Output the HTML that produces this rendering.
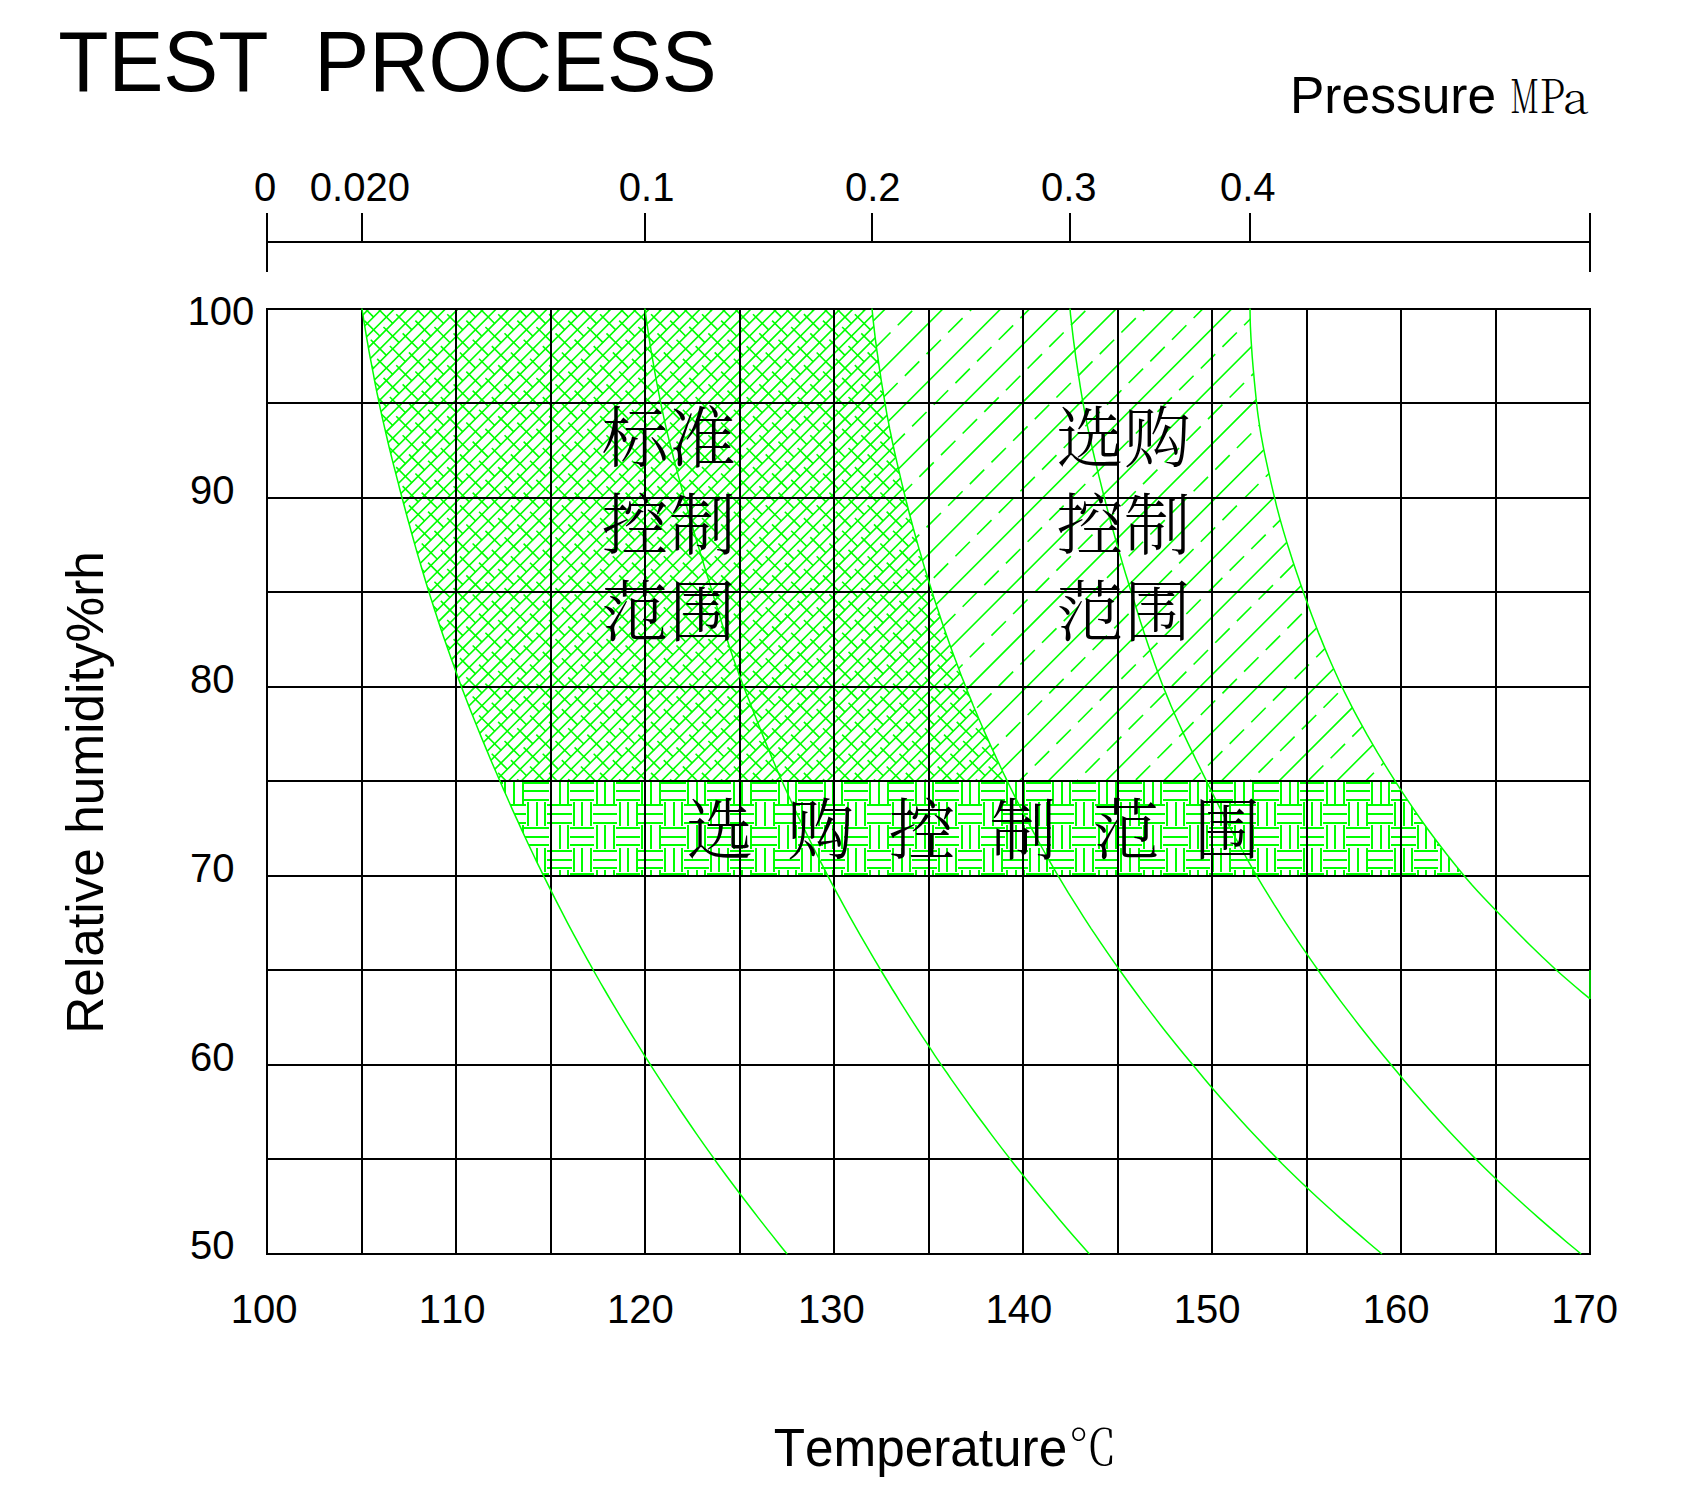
<!DOCTYPE html><html><head><meta charset="utf-8"><title>TEST PROCESS</title>
<style>html,body{margin:0;padding:0;background:#fff}svg{display:block}text{font-family:"Liberation Sans",sans-serif;fill:#000;font-kerning:none}.cj{font-family:"Liberation Serif","Noto Serif CJK SC",serif;font-weight:300}.cn{font-family:"Noto Serif CJK SC","Liberation Serif",serif;font-weight:300}</style></head><body>
<svg width="1687" height="1488" viewBox="0 0 1687 1488">
<rect width="1687" height="1488" fill="#fff"/>
<defs><clipPath id="cA"><path d="M362.0 309.0L362.9 315.1L363.9 321.1L364.9 327.2L365.9 333.2L366.9 339.3L368.0 345.3L369.1 351.4L370.2 357.4L371.3 363.5L372.4 369.5L373.6 375.6L374.8 381.6L376.0 387.7L377.2 393.7L378.5 399.8L379.7 405.8L381.0 411.9L382.3 417.9L383.7 424.0L385.1 430.0L386.5 436.1L388.0 442.1L389.4 448.2L390.9 454.2L392.4 460.3L394.0 466.3L395.5 472.4L397.1 478.4L398.6 484.5L400.2 490.5L401.8 496.6L403.4 502.6L405.0 508.7L406.6 514.7L408.2 520.8L409.9 526.8L411.6 532.9L413.2 538.9L414.9 545.0L416.7 551.1L418.4 557.1L420.2 563.2L422.0 569.2L423.8 575.3L425.6 581.3L427.5 587.4L429.3 593.4L431.3 599.5L433.2 605.5L435.1 611.6L437.1 617.6L439.1 623.7L441.2 629.7L443.2 635.8L445.3 641.8L447.4 647.9L449.5 653.9L451.7 660.0L453.9 666.0L456.1 672.1L458.3 678.1L460.5 684.2L462.8 690.2L465.1 696.3L467.4 702.3L469.8 708.4L472.1 714.4L474.5 720.5L477.0 726.5L479.4 732.6L481.9 738.6L484.4 744.7L487.0 750.7L489.5 756.8L492.1 762.8L494.7 768.9L497.3 774.9L499.9 781.0L1007.3 781.0L1004.3 774.9L1001.5 768.9L998.6 762.8L995.8 756.8L993.0 750.7L990.2 744.7L987.5 738.6L984.8 732.6L982.2 726.5L979.6 720.5L977.0 714.4L974.4 708.4L971.9 702.3L969.5 696.3L967.1 690.2L964.7 684.2L962.3 678.1L960.0 672.1L957.7 666.0L955.4 660.0L953.2 653.9L951.0 647.9L948.8 641.8L946.7 635.8L944.6 629.7L942.5 623.7L940.4 617.6L938.4 611.6L936.4 605.5L934.5 599.5L932.6 593.4L930.6 587.4L928.8 581.3L926.9 575.3L925.1 569.2L923.3 563.2L921.5 557.1L919.7 551.1L918.0 545.0L916.2 538.9L914.6 532.9L912.9 526.8L911.3 520.8L909.7 514.7L908.1 508.7L906.6 502.6L905.1 496.6L903.6 490.5L902.2 484.5L900.7 478.4L899.3 472.4L897.9 466.3L896.5 460.3L895.1 454.2L893.8 448.2L892.5 442.1L891.2 436.1L890.0 430.0L888.8 424.0L887.6 417.9L886.5 411.9L885.4 405.8L884.4 399.8L883.4 393.7L882.4 387.7L881.5 381.6L880.5 375.6L879.6 369.5L878.7 363.5L877.9 357.4L877.0 351.4L876.2 345.3L875.4 339.3L874.7 333.2L874.0 327.2L873.3 321.1L872.6 315.1L872.0 309.0Z"/></clipPath><clipPath id="cB"><path d="M872.0 309.0L872.6 315.1L873.3 321.1L874.0 327.2L874.7 333.2L875.4 339.3L876.2 345.3L877.0 351.4L877.9 357.4L878.7 363.5L879.6 369.5L880.5 375.6L881.5 381.6L882.4 387.7L883.4 393.7L884.4 399.8L885.4 405.8L886.5 411.9L887.6 417.9L888.8 424.0L890.0 430.0L891.2 436.1L892.5 442.1L893.8 448.2L895.1 454.2L896.5 460.3L897.9 466.3L899.3 472.4L900.7 478.4L902.2 484.5L903.6 490.5L905.1 496.6L906.6 502.6L908.1 508.7L909.7 514.7L911.3 520.8L912.9 526.8L914.6 532.9L916.2 538.9L918.0 545.0L919.7 551.1L921.5 557.1L923.3 563.2L925.1 569.2L926.9 575.3L928.8 581.3L930.6 587.4L932.6 593.4L934.5 599.5L936.4 605.5L938.4 611.6L940.4 617.6L942.5 623.7L944.6 629.7L946.7 635.8L948.8 641.8L951.0 647.9L953.2 653.9L955.4 660.0L957.7 666.0L960.0 672.1L962.3 678.1L964.7 684.2L967.1 690.2L969.5 696.3L971.9 702.3L974.4 708.4L977.0 714.4L979.6 720.5L982.2 726.5L984.8 732.6L987.5 738.6L990.2 744.7L993.0 750.7L995.8 756.8L998.6 762.8L1001.5 768.9L1004.3 774.9L1007.3 781.0L1395.0 781.0L1391.2 774.9L1387.4 768.9L1383.7 762.8L1380.0 756.8L1376.4 750.7L1372.8 744.7L1369.3 738.6L1365.9 732.6L1362.5 726.5L1359.2 720.5L1355.9 714.4L1352.7 708.4L1349.6 702.3L1346.6 696.3L1343.6 690.2L1340.8 684.2L1338.0 678.1L1335.2 672.1L1332.5 666.0L1329.8 660.0L1327.2 653.9L1324.7 647.9L1322.2 641.8L1319.7 635.8L1317.3 629.7L1314.9 623.7L1312.6 617.6L1310.3 611.6L1308.1 605.5L1305.9 599.5L1303.8 593.4L1301.7 587.4L1299.6 581.3L1297.5 575.3L1295.5 569.2L1293.5 563.2L1291.5 557.1L1289.5 551.1L1287.6 545.0L1285.8 538.9L1284.0 532.9L1282.2 526.8L1280.5 520.8L1278.9 514.7L1277.3 508.7L1275.8 502.6L1274.3 496.6L1272.9 490.5L1271.5 484.5L1270.1 478.4L1268.7 472.4L1267.4 466.3L1266.1 460.3L1264.8 454.2L1263.6 448.2L1262.4 442.1L1261.3 436.1L1260.2 430.0L1259.3 424.0L1258.4 417.9L1257.6 411.9L1256.9 405.8L1256.2 399.8L1255.6 393.7L1255.0 387.7L1254.4 381.6L1253.9 375.6L1253.3 369.5L1252.8 363.5L1252.3 357.4L1251.9 351.4L1251.4 345.3L1251.1 339.3L1250.7 333.2L1250.5 327.2L1250.2 321.1L1250.1 315.1L1250.0 309.0Z"/></clipPath><clipPath id="cC"><path d="M499.9 781.0L502.6 787.3L505.4 793.7L508.2 800.0L511.0 806.3L513.9 812.7L516.7 819.0L519.6 825.3L522.5 831.7L525.5 838.0L528.5 844.3L531.4 850.7L534.5 857.0L537.5 863.3L540.6 869.7L543.7 876.0L1464.3 876.0L1459.1 869.7L1453.9 863.3L1448.9 857.0L1444.0 850.7L1439.1 844.3L1434.3 838.0L1429.6 831.7L1425.0 825.3L1420.5 819.0L1416.1 812.7L1411.7 806.3L1407.4 800.0L1403.2 793.7L1399.1 787.3L1395.0 781.0Z"/></clipPath></defs>
<g clip-path="url(#cA)" stroke="#00ff00" stroke-width="1.60" fill="none">
<path d="M108.7 543.7L683.7 -31.3M115.1 550.1L690.1 -24.9M121.4 556.4L696.4 -18.6M127.8 562.8L702.8 -12.2M134.2 569.2L709.2 -5.8M140.5 575.5L715.5 0.5M146.9 581.9L721.9 6.9M153.3 588.3L728.3 13.3M159.7 594.7L734.7 19.7M166.0 601.0L741.0 26.0M172.4 607.4L747.4 32.4M178.8 613.8L753.8 38.8M185.1 620.1L760.1 45.1M191.5 626.5L766.5 51.5M197.9 632.9L772.9 57.9M204.3 639.3L779.3 64.3M210.6 645.6L785.6 70.6M217.0 652.0L792.0 77.0M223.4 658.4L798.4 83.4M229.7 664.7L804.7 89.7M236.1 671.1L811.1 96.1M242.5 677.5L817.5 102.5M248.8 683.8L823.8 108.8M255.2 690.2L830.2 115.2M261.6 696.6L836.6 121.6M268.0 703.0L843.0 128.0M274.3 709.3L849.3 134.3M280.7 715.7L855.7 140.7M287.1 722.1L862.1 147.1M293.4 728.4L868.4 153.4M299.8 734.8L874.8 159.8M306.2 741.2L881.2 166.2M312.5 747.5L887.5 172.5M318.9 753.9L893.9 178.9M325.3 760.3L900.3 185.3M331.7 766.7L906.7 191.7M338.0 773.0L913.0 198.0M344.4 779.4L919.4 204.4M350.8 785.8L925.8 210.8M357.1 792.1L932.1 217.1M363.5 798.5L938.5 223.5M369.9 804.9L944.9 229.9M376.3 811.3L951.3 236.3M382.6 817.6L957.6 242.6M389.0 824.0L964.0 249.0M395.4 830.4L970.4 255.4M401.7 836.7L976.7 261.7M408.1 843.1L983.1 268.1M414.5 849.5L989.5 274.5M420.8 855.8L995.8 280.8M427.2 862.2L1002.2 287.2M433.6 868.6L1008.6 293.6M440.0 875.0L1015.0 300.0M446.3 881.3L1021.3 306.3M452.7 887.7L1027.7 312.7M459.1 894.1L1034.1 319.1M465.4 900.4L1040.4 325.4M471.8 906.8L1046.8 331.8M478.2 913.2L1053.2 338.2M484.5 919.5L1059.5 344.5M490.9 925.9L1065.9 350.9M497.3 932.3L1072.3 357.3M503.7 938.7L1078.7 363.7M510.0 945.0L1085.0 370.0M516.4 951.4L1091.4 376.4M522.8 957.8L1097.8 382.8M529.1 964.1L1104.1 389.1M535.5 970.5L1110.5 395.5M541.9 976.9L1116.9 401.9M548.2 983.2L1123.2 408.2M554.6 989.6L1129.6 414.6M561.0 996.0L1136.0 421.0M567.4 1002.4L1142.4 427.4M573.7 1008.7L1148.7 433.7M580.1 1015.1L1155.1 440.1M586.5 1021.5L1161.5 446.5M592.8 1027.8L1167.8 452.8M599.2 1034.2L1174.2 459.2M605.6 1040.6L1180.6 465.6M612.0 1047.0L1187.0 472.0M618.3 1053.3L1193.3 478.3M624.7 1059.7L1199.7 484.7M631.1 1066.1L1206.1 491.1M637.4 1072.4L1212.4 497.4M643.8 1078.8L1218.8 503.8M650.2 1085.2L1225.2 510.2M656.5 1091.5L1231.5 516.5M662.9 1097.9L1237.9 522.9M669.3 1104.3L1244.3 529.3M675.7 1110.7L1250.7 535.7M682.0 1117.0L1257.0 542.0M688.4 1123.4L1263.4 548.4"/>
<path d="M96.8 537.2L707.8 1148.2M90.5 518.1L714.2 1141.8M109.6 524.5L720.5 1135.4M103.2 505.4L726.9 1129.1M122.3 511.7L733.3 1122.7M116.0 492.6L739.6 1116.3M135.1 499.0L746.0 1109.9M128.7 479.9L752.4 1103.6M147.8 486.3L758.8 1097.2M141.4 467.1L765.1 1090.8M160.5 473.5L771.5 1084.5M154.2 454.4L777.9 1078.1M173.3 460.8L784.2 1071.7M166.9 441.7L790.6 1065.4M186.0 448.0L797.0 1059.0M179.7 428.9L803.4 1052.6M198.8 435.3L809.7 1046.2M192.4 416.2L816.1 1039.9M211.5 422.5L822.5 1033.5M205.1 403.4L828.8 1027.1M224.3 409.8L835.2 1020.8M217.9 390.7L841.6 1014.4M237.0 397.1L847.9 1008.0M230.6 378.0L854.3 1001.6M249.7 384.3L860.7 995.3M243.4 365.2L867.1 988.9M262.5 371.6L873.4 982.5M256.1 352.5L879.8 976.2M275.2 358.8L886.2 969.8M268.8 339.7L892.5 963.4M288.0 346.1L898.9 957.1M281.6 327.0L905.3 950.7M300.7 333.4L911.6 944.3M294.3 314.3L918.0 937.9M313.4 320.6L924.4 931.6M307.1 301.5L930.8 925.2M326.2 307.9L937.1 918.8M319.8 288.8L943.5 912.5M338.9 295.1L949.9 906.1M332.5 276.0L956.2 899.7M351.7 282.4L962.6 893.4M345.3 263.3L969.0 887.0M364.4 269.7L975.3 880.6M358.0 250.6L981.7 874.2M377.1 256.9L988.1 867.9M370.8 237.8L994.5 861.5M389.9 244.2L1000.8 855.1M383.5 225.1L1007.2 848.8M402.6 231.4L1013.6 842.4M396.3 212.3L1019.9 836.0M415.4 218.7L1026.3 829.6M409.0 199.6L1032.7 823.3M428.1 206.0L1039.1 816.9M421.7 186.8L1045.4 810.5M440.8 193.2L1051.8 804.2M434.5 174.1L1058.2 797.8M453.6 180.5L1064.5 791.4M447.2 161.4L1070.9 785.1M466.3 167.7L1077.3 778.7M460.0 148.6L1083.6 772.3M479.1 155.0L1090.0 765.9M472.7 135.9L1096.4 759.6M491.8 142.3L1102.8 753.2M485.4 123.1L1109.1 746.8M504.5 129.5L1115.5 740.5M498.2 110.4L1121.9 734.1M517.3 116.8L1128.2 727.7M510.9 97.7L1134.6 721.4M530.0 104.0L1141.0 715.0M523.7 84.9L1147.3 708.6M542.8 91.3L1153.7 702.2M536.4 72.2L1160.1 695.9M555.5 78.6L1166.5 689.5M549.1 59.4L1172.8 683.1M568.2 65.8L1179.2 676.8M561.9 46.7L1185.6 670.4M581.0 53.1L1191.9 664.0M574.6 34.0L1198.3 657.7M593.7 40.3L1204.7 651.3M587.4 21.2L1211.1 644.9M606.5 27.6L1217.4 638.5M600.1 8.5L1223.8 632.2M619.2 14.8L1230.2 625.8M612.8 -4.3L1236.5 619.4M632.0 2.1L1242.9 613.1M625.6 -17.0L1249.3 606.7M644.7 -10.6L1255.6 600.3M638.3 -29.7L1262.0 593.9M657.4 -23.4L1268.4 587.6M651.1 -42.5L1274.8 581.2M670.2 -36.1L1281.1 574.8M663.8 -55.2L1287.5 568.5" stroke-dasharray="22.52 13.51"/>
</g>
<g clip-path="url(#cB)" stroke="#00ff00" stroke-width="1.60" fill="none">
<path d="M574.3 504.3L1094.3 -15.7M603.2 533.2L1123.2 13.2M632.1 562.1L1152.1 42.1M660.9 590.9L1180.9 70.9M689.8 619.8L1209.8 99.8M718.7 648.7L1238.7 128.7M747.5 677.5L1267.5 157.5M776.4 706.4L1296.4 186.4M805.3 735.3L1325.3 215.3M834.1 764.1L1354.1 244.1M863.0 793.0L1383.0 273.0M891.8 821.8L1411.8 301.8M920.7 850.7L1440.7 330.7M949.6 879.6L1469.6 359.6M978.4 908.4L1498.4 388.4M1007.3 937.3L1527.3 417.3M1036.2 966.2L1556.2 446.2M1065.0 995.0L1585.0 475.0M1093.9 1023.9L1613.9 503.9M1122.8 1052.8L1642.8 532.8M1151.6 1081.6L1671.6 561.6M1180.5 1110.5L1700.5 590.5"/>
<path d="M580.2 527.4L1130.4 -22.9M609.0 556.3L1159.3 6.0M637.9 585.1L1188.2 34.9M666.7 614.0L1217.0 63.7M695.6 642.9L1245.9 92.6M724.5 671.7L1274.7 121.4M753.3 700.6L1303.6 150.3M782.2 729.4L1332.5 179.2M811.1 758.3L1361.3 208.0M839.9 787.2L1390.2 236.9M868.8 816.0L1419.1 265.8M897.7 844.9L1447.9 294.6M926.5 873.8L1476.8 323.5M955.4 902.6L1505.7 352.4M984.3 931.5L1534.5 381.2M1013.1 960.4L1563.4 410.1M1042.0 989.2L1592.2 439.0M1070.8 1018.1L1621.1 467.8M1099.7 1047.0L1650.0 496.7M1128.6 1075.8L1678.8 525.5M1157.4 1104.7L1707.7 554.4M1186.3 1133.5L1736.6 583.3" stroke-dasharray="20.41 10.21"/>
</g>
<path clip-path="url(#cC)" d="M479 783h24M524 783h25M570 783h24M616 783h24M661 783h25M707 783h24M752 783h25M798 783h25M844 783h24M889 783h25M935 783h24M981 783h24M1026 783h25M1072 783h24M1117 783h25M1163 783h25M1209 783h24M1254 783h25M1300 783h24M1346 783h24M1391 783h25M1437 783h24M479 791h24M524 791h25M570 791h24M616 791h24M661 791h25M707 791h24M752 791h25M798 791h25M844 791h24M889 791h25M935 791h24M981 791h24M1026 791h25M1072 791h24M1117 791h25M1163 791h25M1209 791h24M1254 791h25M1300 791h24M1346 791h24M1391 791h25M1437 791h24M479 800h24M524 800h25M570 800h24M616 800h24M661 800h25M707 800h24M752 800h25M798 800h25M844 800h24M889 800h25M935 800h24M981 800h24M1026 800h25M1072 800h24M1117 800h25M1163 800h25M1209 800h24M1254 800h25M1300 800h24M1346 800h24M1391 800h25M1437 800h24M456 805h24M502 805h24M547 805h25M593 805h24M638 805h25M684 805h25M730 805h24M775 805h25M821 805h24M867 805h24M912 805h25M958 805h24M1003 805h25M1049 805h25M1095 805h24M1140 805h25M1186 805h24M1231 805h25M1277 805h25M1323 805h24M1368 805h25M1414 805h24M1460 805h24M456 814h24M502 814h24M547 814h25M593 814h24M638 814h25M684 814h25M730 814h24M775 814h25M821 814h24M867 814h24M912 814h25M958 814h24M1003 814h25M1049 814h25M1095 814h24M1140 814h25M1186 814h24M1231 814h25M1277 814h25M1323 814h24M1368 814h25M1414 814h24M1460 814h24M456 823h24M502 823h24M547 823h25M593 823h24M638 823h25M684 823h25M730 823h24M775 823h25M821 823h24M867 823h24M912 823h25M958 823h24M1003 823h25M1049 823h25M1095 823h24M1140 823h25M1186 823h24M1231 823h25M1277 823h25M1323 823h24M1368 823h25M1414 823h24M1460 823h24M479 828h24M524 828h25M570 828h24M616 828h24M661 828h25M707 828h24M752 828h25M798 828h25M844 828h24M889 828h25M935 828h24M981 828h24M1026 828h25M1072 828h24M1117 828h25M1163 828h25M1209 828h24M1254 828h25M1300 828h24M1346 828h24M1391 828h25M1437 828h24M479 837h24M524 837h25M570 837h24M616 837h24M661 837h25M707 837h24M752 837h25M798 837h25M844 837h24M889 837h25M935 837h24M981 837h24M1026 837h25M1072 837h24M1117 837h25M1163 837h25M1209 837h24M1254 837h25M1300 837h24M1346 837h24M1391 837h25M1437 837h24M479 845h24M524 845h25M570 845h24M616 845h24M661 845h25M707 845h24M752 845h25M798 845h25M844 845h24M889 845h25M935 845h24M981 845h24M1026 845h25M1072 845h24M1117 845h25M1163 845h25M1209 845h24M1254 845h25M1300 845h24M1346 845h24M1391 845h25M1437 845h24M456 851h24M502 851h24M547 851h25M593 851h24M638 851h25M684 851h25M730 851h24M775 851h25M821 851h24M867 851h24M912 851h25M958 851h24M1003 851h25M1049 851h25M1095 851h24M1140 851h25M1186 851h24M1231 851h25M1277 851h25M1323 851h24M1368 851h25M1414 851h24M1460 851h24M456 860h24M502 860h24M547 860h25M593 860h24M638 860h25M684 860h25M730 860h24M775 860h25M821 860h24M867 860h24M912 860h25M958 860h24M1003 860h25M1049 860h25M1095 860h24M1140 860h25M1186 860h24M1231 860h25M1277 860h25M1323 860h24M1368 860h25M1414 860h24M1460 860h24M456 868h24M502 868h24M547 868h25M593 868h24M638 868h25M684 868h25M730 868h24M775 868h25M821 868h24M867 868h24M912 868h25M958 868h24M1003 868h25M1049 868h25M1095 868h24M1140 868h25M1186 868h24M1231 868h25M1277 868h25M1323 868h24M1368 868h25M1414 868h24M1460 868h24M479 874h24M524 874h25M570 874h24M616 874h24M661 874h25M707 874h24M752 874h25M798 874h25M844 874h24M889 874h25M935 874h24M981 874h24M1026 874h25M1072 874h24M1117 874h25M1163 874h25M1209 874h24M1254 874h25M1300 874h24M1346 874h24M1391 874h25M1437 874h24M491 711v24M491 756v25M491 802v24M491 848v24M500 711v24M500 756v25M500 802v24M500 848v24M505 734v24M505 779v25M505 825v24M505 870v25M514 734v24M514 779v25M514 825v24M514 870v25M523 734v24M523 779v25M523 825v24M523 870v25M528 711v24M528 756v25M528 802v24M528 848v24M537 711v24M537 756v25M537 802v24M537 848v24M545 711v24M545 756v25M545 802v24M545 848v24M551 734v24M551 779v25M551 825v24M551 870v25M560 734v24M560 779v25M560 825v24M560 870v25M568 734v24M568 779v25M568 825v24M568 870v25M574 711v24M574 756v25M574 802v24M574 848v24M582 711v24M582 756v25M582 802v24M582 848v24M591 711v24M591 756v25M591 802v24M591 848v24M597 734v24M597 779v25M597 825v24M597 870v25M605 734v24M605 779v25M605 825v24M605 870v25M614 734v24M614 779v25M614 825v24M614 870v25M620 711v24M620 756v25M620 802v24M620 848v24M628 711v24M628 756v25M628 802v24M628 848v24M637 711v24M637 756v25M637 802v24M637 848v24M642 734v24M642 779v25M642 825v24M642 870v25M651 734v24M651 779v25M651 825v24M651 870v25M660 734v24M660 779v25M660 825v24M660 870v25M665 711v24M665 756v25M665 802v24M665 848v24M674 711v24M674 756v25M674 802v24M674 848v24M682 711v24M682 756v25M682 802v24M682 848v24M688 734v24M688 779v25M688 825v24M688 870v25M697 734v24M697 779v25M697 825v24M697 870v25M705 734v24M705 779v25M705 825v24M705 870v25M711 711v24M711 756v25M711 802v24M711 848v24M719 711v24M719 756v25M719 802v24M719 848v24M728 711v24M728 756v25M728 802v24M728 848v24M734 734v24M734 779v25M734 825v24M734 870v25M742 734v24M742 779v25M742 825v24M742 870v25M751 734v24M751 779v25M751 825v24M751 870v25M756 711v24M756 756v25M756 802v24M756 848v24M765 711v24M765 756v25M765 802v24M765 848v24M774 711v24M774 756v25M774 802v24M774 848v24M779 734v24M779 779v25M779 825v24M779 870v25M788 734v24M788 779v25M788 825v24M788 870v25M796 734v24M796 779v25M796 825v24M796 870v25M802 711v24M802 756v25M802 802v24M802 848v24M811 711v24M811 756v25M811 802v24M811 848v24M819 711v24M819 756v25M819 802v24M819 848v24M825 734v24M825 779v25M825 825v24M825 870v25M833 734v24M833 779v25M833 825v24M833 870v25M842 734v24M842 779v25M842 825v24M842 870v25M848 711v24M848 756v25M848 802v24M848 848v24M856 711v24M856 756v25M856 802v24M856 848v24M865 711v24M865 756v25M865 802v24M865 848v24M870 734v24M870 779v25M870 825v24M870 870v25M879 734v24M879 779v25M879 825v24M879 870v25M888 734v24M888 779v25M888 825v24M888 870v25M893 711v24M893 756v25M893 802v24M893 848v24M902 711v24M902 756v25M902 802v24M902 848v24M910 711v24M910 756v25M910 802v24M910 848v24M916 734v24M916 779v25M916 825v24M916 870v25M925 734v24M925 779v25M925 825v24M925 870v25M933 734v24M933 779v25M933 825v24M933 870v25M939 711v24M939 756v25M939 802v24M939 848v24M947 711v24M947 756v25M947 802v24M947 848v24M956 711v24M956 756v25M956 802v24M956 848v24M962 734v24M962 779v25M962 825v24M962 870v25M970 734v24M970 779v25M970 825v24M970 870v25M979 734v24M979 779v25M979 825v24M979 870v25M984 711v24M984 756v25M984 802v24M984 848v24M993 711v24M993 756v25M993 802v24M993 848v24M1002 711v24M1002 756v25M1002 802v24M1002 848v24M1007 734v24M1007 779v25M1007 825v24M1007 870v25M1016 734v24M1016 779v25M1016 825v24M1016 870v25M1024 734v24M1024 779v25M1024 825v24M1024 870v25M1030 711v24M1030 756v25M1030 802v24M1030 848v24M1039 711v24M1039 756v25M1039 802v24M1039 848v24M1047 711v24M1047 756v25M1047 802v24M1047 848v24M1053 734v24M1053 779v25M1053 825v24M1053 870v25M1062 734v24M1062 779v25M1062 825v24M1062 870v25M1070 734v24M1070 779v25M1070 825v24M1070 870v25M1076 711v24M1076 756v25M1076 802v24M1076 848v24M1084 711v24M1084 756v25M1084 802v24M1084 848v24M1093 711v24M1093 756v25M1093 802v24M1093 848v24M1099 734v24M1099 779v25M1099 825v24M1099 870v25M1107 734v24M1107 779v25M1107 825v24M1107 870v25M1116 734v24M1116 779v25M1116 825v24M1116 870v25M1121 711v24M1121 756v25M1121 802v24M1121 848v24M1130 711v24M1130 756v25M1130 802v24M1130 848v24M1139 711v24M1139 756v25M1139 802v24M1139 848v24M1144 734v24M1144 779v25M1144 825v24M1144 870v25M1153 734v24M1153 779v25M1153 825v24M1153 870v25M1161 734v24M1161 779v25M1161 825v24M1161 870v25M1167 711v24M1167 756v25M1167 802v24M1167 848v24M1176 711v24M1176 756v25M1176 802v24M1176 848v24M1184 711v24M1184 756v25M1184 802v24M1184 848v24M1190 734v24M1190 779v25M1190 825v24M1190 870v25M1198 734v24M1198 779v25M1198 825v24M1198 870v25M1207 734v24M1207 779v25M1207 825v24M1207 870v25M1213 711v24M1213 756v25M1213 802v24M1213 848v24M1221 711v24M1221 756v25M1221 802v24M1221 848v24M1230 711v24M1230 756v25M1230 802v24M1230 848v24M1235 734v24M1235 779v25M1235 825v24M1235 870v25M1244 734v24M1244 779v25M1244 825v24M1244 870v25M1253 734v24M1253 779v25M1253 825v24M1253 870v25M1258 711v24M1258 756v25M1258 802v24M1258 848v24M1267 711v24M1267 756v25M1267 802v24M1267 848v24M1275 711v24M1275 756v25M1275 802v24M1275 848v24M1281 734v24M1281 779v25M1281 825v24M1281 870v25M1290 734v24M1290 779v25M1290 825v24M1290 870v25M1298 734v24M1298 779v25M1298 825v24M1298 870v25M1304 711v24M1304 756v25M1304 802v24M1304 848v24M1312 711v24M1312 756v25M1312 802v24M1312 848v24M1321 711v24M1321 756v25M1321 802v24M1321 848v24M1327 734v24M1327 779v25M1327 825v24M1327 870v25M1335 734v24M1335 779v25M1335 825v24M1335 870v25M1344 734v24M1344 779v25M1344 825v24M1344 870v25M1349 711v24M1349 756v25M1349 802v24M1349 848v24M1358 711v24M1358 756v25M1358 802v24M1358 848v24M1367 711v24M1367 756v25M1367 802v24M1367 848v24M1372 734v24M1372 779v25M1372 825v24M1372 870v25M1381 734v24M1381 779v25M1381 825v24M1381 870v25M1389 734v24M1389 779v25M1389 825v24M1389 870v25M1395 711v24M1395 756v25M1395 802v24M1395 848v24M1404 711v24M1404 756v25M1404 802v24M1404 848v24M1412 711v24M1412 756v25M1412 802v24M1412 848v24M1418 734v24M1418 779v25M1418 825v24M1418 870v25M1426 734v24M1426 779v25M1426 825v24M1426 870v25M1435 734v24M1435 779v25M1435 825v24M1435 870v25M1441 711v24M1441 756v25M1441 802v24M1441 848v24M1449 711v24M1449 756v25M1449 802v24M1449 848v24M1458 711v24M1458 756v25M1458 802v24M1458 848v24M1463 734v24M1463 779v25M1463 825v24M1463 870v25M1472 734v24M1472 779v25M1472 825v24M1472 870v25" stroke="#00ff00" stroke-width="2" fill="none" shape-rendering="crispEdges"/>
<path d="M267 308V1255M362 308V1255M456 308V1255M551 308V1255M645 308V1255M740 308V1255M834 308V1255M929 308V1255M1023 308V1255M1118 308V1255M1212 308V1255M1307 308V1255M1401 308V1255M1496 308V1255M1590 308V1255M266 309H1591M266 403H1591M266 498H1591M266 592H1591M266 687H1591M266 781H1591M266 876H1591M266 970H1591M266 1065H1591M266 1159H1591M266 1254H1591" stroke="#000" stroke-width="2" fill="none" shape-rendering="crispEdges"/>
<path d="M266 242H1591M267 213V272M1590 213V272M362 213V242M645 213V242M872 213V242M1070 213V242M1250 213V242" stroke="#000" stroke-width="2" fill="none" shape-rendering="crispEdges"/>
<path d="M361.9 308.5L362.9 314.5L363.8 320.5L364.8 326.6L365.8 332.6L366.8 338.6L367.9 344.6L368.9 350.7L370.0 356.7L371.2 362.7L372.3 368.7L373.5 374.7L374.6 380.8L375.8 386.8L377.0 392.8L378.3 398.8L379.5 404.9L380.8 410.9L382.1 416.9L383.5 422.9L384.9 428.9L386.3 435.0L387.7 441.0L389.1 447.0L390.6 453.0L392.1 459.1L393.6 465.1L395.2 471.1L396.7 477.1L398.3 483.1L399.8 489.2L401.4 495.2L403.0 501.2L404.6 507.2L406.2 513.3L407.8 519.3L409.5 525.3L411.1 531.3L412.8 537.3L414.5 543.4L416.2 549.4L417.9 555.4L419.7 561.4L421.5 567.5L423.3 573.5L425.1 579.5L426.9 585.5L428.8 591.5L430.7 597.6L432.6 603.6L434.5 609.6L436.5 615.6L438.5 621.7L440.5 627.7L442.5 633.7L444.6 639.7L446.7 645.7L448.8 651.8L450.9 657.8L453.1 663.8L455.3 669.8L457.5 675.9L459.7 681.9L461.9 687.9L464.2 693.9L466.5 699.9L468.8 706.0L471.2 712.0L473.6 718.0L476.0 724.0L478.4 730.1L480.9 736.1L483.4 742.1L485.9 748.1L488.4 754.1L490.9 760.2L493.5 766.2L496.1 772.2L498.7 778.2L501.3 784.3L503.9 790.3L506.6 796.3L509.2 802.3L511.9 808.4L514.6 814.4L517.4 820.4L520.1 826.4L522.9 832.4L525.7 838.5L528.5 844.5L531.4 850.5L534.2 856.5L537.1 862.6L540.1 868.6L543.0 874.6L546.0 880.6L549.0 886.6L552.0 892.7L555.0 898.7L558.1 904.7L561.2 910.7L564.4 916.8L567.5 922.8L570.7 928.8L573.9 934.8L577.2 940.8L580.4 946.9L583.7 952.9L587.0 958.9L590.4 964.9L593.8 971.0L597.2 977.0L600.6 983.0L604.1 989.0L607.6 995.0L611.2 1001.1L614.8 1007.1L618.4 1013.1L622.0 1019.1L625.7 1025.2L629.4 1031.2L633.1 1037.2L636.9 1043.2L640.6 1049.2L644.4 1055.3L648.3 1061.3L652.1 1067.3L656.0 1073.3L659.9 1079.4L663.8 1085.4L667.8 1091.4L671.7 1097.4L675.8 1103.4L679.8 1109.5L683.9 1115.5L688.0 1121.5L692.1 1127.5L696.3 1133.6L700.5 1139.6L704.7 1145.6L709.0 1151.6L713.3 1157.6L717.6 1163.7L722.0 1169.7L726.4 1175.7L730.9 1181.7L735.4 1187.8L739.9 1193.8L744.5 1199.8L749.1 1205.8L753.7 1211.8L758.4 1217.9L763.1 1223.9L767.8 1229.9L772.6 1235.9L777.4 1242.0L782.2 1248.0L787.1 1254.0M644.9 308.5L645.7 314.5L646.5 320.5L647.4 326.6L648.3 332.6L649.2 338.6L650.1 344.6L651.1 350.7L652.1 356.7L653.2 362.7L654.2 368.7L655.3 374.7L656.4 380.8L657.6 386.8L658.7 392.8L659.9 398.8L661.1 404.9L662.4 410.9L663.7 416.9L665.0 422.9L666.4 428.9L667.8 435.0L669.3 441.0L670.8 447.0L672.4 453.0L673.9 459.1L675.5 465.1L677.1 471.1L678.7 477.1L680.3 483.1L682.0 489.2L683.6 495.2L685.2 501.2L686.9 507.2L688.6 513.3L690.3 519.3L692.1 525.3L693.8 531.3L695.6 537.3L697.4 543.4L699.2 549.4L701.1 555.4L702.9 561.4L704.7 567.5L706.6 573.5L708.5 579.5L710.3 585.5L712.2 591.5L714.0 597.6L715.9 603.6L717.7 609.6L719.6 615.6L721.4 621.7L723.3 627.7L725.2 633.7L727.2 639.7L729.1 645.7L731.1 651.8L733.1 657.8L735.2 663.8L737.4 669.8L739.6 675.9L741.9 681.9L744.2 687.9L746.5 693.9L748.9 699.9L751.2 706.0L753.6 712.0L755.9 718.0L758.3 724.0L760.7 730.1L763.1 736.1L765.5 742.1L768.0 748.1L770.5 754.1L773.0 760.2L775.6 766.2L778.1 772.2L780.8 778.2L783.4 784.3L786.1 790.3L788.8 796.3L791.6 802.3L794.4 808.4L797.2 814.4L800.1 820.4L803.0 826.4L805.9 832.4L808.9 838.5L811.9 844.5L814.9 850.5L817.9 856.5L821.0 862.6L824.1 868.6L827.2 874.6L830.3 880.6L833.5 886.6L836.7 892.7L840.0 898.7L843.2 904.7L846.5 910.7L849.9 916.8L853.3 922.8L856.7 928.8L860.1 934.8L863.6 940.8L867.1 946.9L870.6 952.9L874.1 958.9L877.7 964.9L881.3 971.0L884.9 977.0L888.6 983.0L892.2 989.0L896.0 995.0L899.7 1001.1L903.5 1007.1L907.3 1013.1L911.1 1019.1L915.0 1025.2L918.9 1031.2L922.8 1037.2L926.8 1043.2L930.8 1049.2L934.8 1055.3L938.9 1061.3L943.0 1067.3L947.2 1073.3L951.3 1079.4L955.6 1085.4L959.8 1091.4L964.1 1097.4L968.4 1103.4L972.8 1109.5L977.2 1115.5L981.7 1121.5L986.2 1127.5L990.7 1133.6L995.2 1139.6L999.8 1145.6L1004.4 1151.6L1009.1 1157.6L1013.8 1163.7L1018.6 1169.7L1023.4 1175.7L1028.2 1181.7L1033.1 1187.8L1038.0 1193.8L1042.9 1199.8L1047.9 1205.8L1053.0 1211.8L1058.1 1217.9L1063.2 1223.9L1068.3 1229.9L1073.5 1235.9L1078.8 1242.0L1084.1 1248.0L1089.4 1254.0M872.0 308.5L872.6 314.5L873.2 320.5L873.9 326.6L874.6 332.6L875.3 338.6L876.1 344.6L876.9 350.7L877.8 356.7L878.6 362.7L879.5 368.7L880.4 374.7L881.3 380.8L882.3 386.8L883.3 392.8L884.3 398.8L885.3 404.9L886.3 410.9L887.4 416.9L888.6 422.9L889.7 428.9L891.0 435.0L892.2 441.0L893.5 447.0L894.8 453.0L896.2 459.1L897.6 465.1L899.0 471.1L900.4 477.1L901.8 483.1L903.3 489.2L904.8 495.2L906.2 501.2L907.8 507.2L909.3 513.3L910.9 519.3L912.5 525.3L914.1 531.3L915.8 537.3L917.5 543.4L919.2 549.4L921.0 555.4L922.7 561.4L924.5 567.5L926.4 573.5L928.2 579.5L930.1 585.5L932.0 591.5L933.9 597.6L935.8 603.6L937.8 609.6L939.8 615.6L941.8 621.7L943.9 627.7L946.0 633.7L948.1 639.7L950.2 645.7L952.4 651.8L954.6 657.8L956.9 663.8L959.1 669.8L961.4 675.9L963.8 681.9L966.1 687.9L968.5 693.9L971.0 699.9L973.4 706.0L976.0 712.0L978.5 718.0L981.1 724.0L983.7 730.1L986.4 736.1L989.1 742.1L991.8 748.1L994.6 754.1L997.4 760.2L1000.2 766.2L1003.0 772.2L1005.9 778.2L1008.8 784.3L1011.8 790.3L1014.8 796.3L1017.8 802.3L1020.9 808.4L1024.0 814.4L1027.2 820.4L1030.4 826.4L1033.6 832.4L1036.9 838.5L1040.2 844.5L1043.6 850.5L1047.0 856.5L1050.4 862.6L1053.9 868.6L1057.4 874.6L1061.0 880.6L1064.6 886.6L1068.2 892.7L1072.0 898.7L1075.8 904.7L1079.6 910.7L1083.5 916.8L1087.4 922.8L1091.3 928.8L1095.4 934.8L1099.4 940.8L1103.5 946.9L1107.6 952.9L1111.8 958.9L1116.0 964.9L1120.3 971.0L1124.6 977.0L1128.9 983.0L1133.3 989.0L1137.7 995.0L1142.2 1001.1L1146.8 1007.1L1151.4 1013.1L1156.0 1019.1L1160.7 1025.2L1165.4 1031.2L1170.2 1037.2L1175.0 1043.2L1179.9 1049.2L1184.8 1055.3L1189.8 1061.3L1194.8 1067.3L1199.8 1073.3L1204.9 1079.4L1210.0 1085.4L1215.2 1091.4L1220.4 1097.4L1225.7 1103.4L1231.1 1109.5L1236.5 1115.5L1241.9 1121.5L1247.4 1127.5L1253.0 1133.6L1258.7 1139.6L1264.4 1145.6L1270.3 1151.6L1276.2 1157.6L1282.1 1163.7L1288.2 1169.7L1294.4 1175.7L1300.6 1181.7L1307.0 1187.8L1313.4 1193.8L1319.9 1199.8L1326.5 1205.8L1333.2 1211.8L1339.9 1217.9L1346.8 1223.9L1353.7 1229.9L1360.7 1235.9L1367.7 1242.0L1374.8 1248.0L1382.0 1254.0M1070.0 308.5L1070.5 314.5L1071.2 320.5L1071.9 326.6L1072.6 332.6L1073.3 338.6L1074.1 344.6L1074.9 350.7L1075.7 356.7L1076.6 362.7L1077.5 368.7L1078.4 374.7L1079.4 380.8L1080.3 386.8L1081.3 392.8L1082.3 398.8L1083.4 404.9L1084.5 410.9L1085.6 416.9L1086.8 422.9L1088.0 428.9L1089.3 435.0L1090.6 441.0L1092.0 447.0L1093.4 453.0L1094.8 459.1L1096.3 465.1L1097.7 471.1L1099.2 477.1L1100.7 483.1L1102.2 489.2L1103.7 495.2L1105.3 501.2L1106.8 507.2L1108.4 513.3L1110.0 519.3L1111.6 525.3L1113.3 531.3L1115.0 537.3L1116.7 543.4L1118.4 549.4L1120.2 555.4L1121.9 561.4L1123.7 567.5L1125.5 573.5L1127.4 579.5L1129.2 585.5L1131.1 591.5L1132.9 597.6L1134.8 603.6L1136.7 609.6L1138.6 615.6L1140.5 621.7L1142.5 627.7L1144.4 633.7L1146.4 639.7L1148.4 645.7L1150.5 651.8L1152.6 657.8L1154.7 663.8L1156.9 669.8L1159.1 675.9L1161.4 681.9L1163.7 687.9L1166.1 693.9L1168.6 699.9L1171.1 706.0L1173.7 712.0L1176.4 718.0L1179.1 724.0L1181.9 730.1L1184.7 736.1L1187.5 742.1L1190.4 748.1L1193.3 754.1L1196.2 760.2L1199.2 766.2L1202.1 772.2L1205.1 778.2L1208.1 784.3L1211.0 790.3L1214.0 796.3L1217.1 802.3L1220.1 808.4L1223.2 814.4L1226.3 820.4L1229.4 826.4L1232.6 832.4L1235.8 838.5L1239.1 844.5L1242.4 850.5L1245.7 856.5L1249.1 862.6L1252.5 868.6L1256.0 874.6L1259.5 880.6L1263.1 886.6L1266.8 892.7L1270.5 898.7L1274.2 904.7L1278.1 910.7L1281.9 916.8L1285.8 922.8L1289.8 928.8L1293.8 934.8L1297.8 940.8L1301.9 946.9L1306.1 952.9L1310.2 958.9L1314.4 964.9L1318.7 971.0L1322.9 977.0L1327.3 983.0L1331.7 989.0L1336.1 995.0L1340.6 1001.1L1345.2 1007.1L1349.8 1013.1L1354.4 1019.1L1359.1 1025.2L1363.8 1031.2L1368.6 1037.2L1373.4 1043.2L1378.3 1049.2L1383.2 1055.3L1388.2 1061.3L1393.2 1067.3L1398.2 1073.3L1403.3 1079.4L1408.4 1085.4L1413.5 1091.4L1418.8 1097.4L1424.0 1103.4L1429.3 1109.5L1434.7 1115.5L1440.1 1121.5L1445.6 1127.5L1451.2 1133.6L1456.9 1139.6L1462.6 1145.6L1468.4 1151.6L1474.4 1157.6L1480.4 1163.7L1486.5 1169.7L1492.7 1175.7L1498.9 1181.7L1505.3 1187.8L1511.8 1193.8L1518.4 1199.8L1525.0 1205.8L1531.7 1211.8L1538.6 1217.9L1545.5 1223.9L1552.4 1229.9L1559.5 1235.9L1566.6 1242.0L1573.9 1248.0L1581.1 1254.0M1250.0 308.5L1250.1 314.5L1250.2 320.5L1250.4 326.5L1250.7 332.5L1251.0 338.5L1251.4 344.5L1251.8 350.5L1252.2 356.5L1252.7 362.5L1253.2 368.5L1253.8 374.5L1254.3 380.5L1254.9 386.5L1255.5 392.5L1256.1 398.5L1256.7 404.5L1257.4 410.5L1258.2 416.5L1259.1 422.5L1260.0 428.6L1261.0 434.6L1262.1 440.6L1263.2 446.6L1264.4 452.6L1265.7 458.6L1267.0 464.6L1268.3 470.6L1269.7 476.6L1271.0 482.6L1272.4 488.6L1273.8 494.6L1275.3 500.6L1276.7 506.6L1278.3 512.6L1279.9 518.6L1281.6 524.6L1283.3 530.6L1285.1 536.6L1286.9 542.6L1288.8 548.6L1290.7 554.6L1292.6 560.6L1294.6 566.6L1296.6 572.6L1298.7 578.6L1300.7 584.6L1302.8 590.6L1304.9 596.6L1307.1 602.6L1309.3 608.6L1311.5 614.6L1313.8 620.6L1316.1 626.6L1318.4 632.6L1320.9 638.6L1323.3 644.6L1325.8 650.6L1328.4 656.7L1331.0 662.7L1333.7 668.7L1336.4 674.7L1339.1 680.7L1341.9 686.7L1344.8 692.7L1347.8 698.7L1350.8 704.7L1353.9 710.7L1357.1 716.7L1360.4 722.7L1363.7 728.7L1367.0 734.7L1370.5 740.7L1374.0 746.7L1377.5 752.7L1381.2 758.7L1384.8 764.7L1388.5 770.7L1392.3 776.7L1396.1 782.7L1400.0 788.7L1403.9 794.7L1407.9 800.7L1412.0 806.7L1416.1 812.7L1420.3 818.7L1424.6 824.7L1428.9 830.7L1433.4 836.7L1437.9 842.7L1442.5 848.7L1447.1 854.7L1451.9 860.7L1456.7 866.7L1461.6 872.7L1466.6 878.7L1471.8 884.8L1477.2 890.8L1482.8 896.8L1488.5 902.8L1494.3 908.8L1500.1 914.8L1505.9 920.8L1511.8 926.8L1517.7 932.8L1523.7 938.8L1529.7 944.8L1535.9 950.8L1542.1 956.8L1548.5 962.8L1554.9 968.8L1561.6 974.8L1568.5 980.8L1575.5 986.8L1582.7 992.8L1590.1 998.8M1590 970V999" stroke="#00ff00" stroke-width="1.50" fill="none"/>
<text transform="translate(58.2 90.8) scale(1 1.044)" font-size="82.3" word-spacing="22.9">TEST PROCESS</text>
<text y="113.3" font-size="51.5" xml:space="preserve"><tspan x="1290">Pressure </tspan><tspan class="cn" x="1510.6" font-size="47" textLength="28.4" lengthAdjust="spacingAndGlyphs">M</tspan><tspan class="cn" x="1539.5" font-size="47" textLength="25.7" lengthAdjust="spacingAndGlyphs">P</tspan><tspan class="cn" x="1562.85" font-size="41.8" textLength="26.25" lengthAdjust="spacingAndGlyphs">a</tspan></text>
<text transform="translate(773.8 1465.7) scale(1 1.03)" font-size="51.25">Temperature<tspan class="cn" x="294.8" y="-0.8" font-size="47.1" textLength="48.4" lengthAdjust="spacingAndGlyphs">℃</tspan></text>
<text transform="translate(102.6 1033.8) rotate(-90)" font-size="51.4">Relative humidity%rh</text>
<text x="254.0" y="200.9" font-size="40">0</text>
<text x="309.8" y="200.9" font-size="40">0.020</text>
<text x="618.8" y="200.9" font-size="40">0.1</text>
<text x="845.0" y="200.9" font-size="40">0.2</text>
<text x="1041.0" y="200.9" font-size="40">0.3</text>
<text x="1220.0" y="200.9" font-size="40">0.4</text>
<text x="187.4" y="324.5" font-size="40">100</text>
<text x="190.0" y="503.9" font-size="40">90</text>
<text x="190.0" y="692.9" font-size="40">80</text>
<text x="190.0" y="881.7" font-size="40">70</text>
<text x="190.0" y="1070.6" font-size="40">60</text>
<text x="190.0" y="1259.3" font-size="40">50</text>
<text x="230.7" y="1322.8" font-size="40">100</text>
<text x="418.8" y="1322.8" font-size="40">110</text>
<text x="606.9" y="1322.8" font-size="40">120</text>
<text x="798.1" y="1322.8" font-size="40">130</text>
<text x="985.5" y="1322.8" font-size="40">140</text>
<text x="1173.7" y="1322.8" font-size="40">150</text>
<text x="1362.7" y="1322.8" font-size="40">160</text>
<text x="1551.3" y="1322.8" font-size="40">170</text>
<text class="cj" x="635.0 702.5" y="462.4" font-size="67" text-anchor="middle">标准</text>
<text class="cj" x="635.0 702.5" y="548.8" font-size="67" text-anchor="middle">控制</text>
<text class="cj" x="635.0 702.5" y="636.2" font-size="67" text-anchor="middle">范围</text>
<text class="cj" x="1090.0 1157.5" y="462.4" font-size="67" text-anchor="middle">选购</text>
<text class="cj" x="1090.0 1157.5" y="548.8" font-size="67" text-anchor="middle">控制</text>
<text class="cj" x="1090.0 1157.5" y="636.2" font-size="67" text-anchor="middle">范围</text>
<text class="cj" x="720.0 820.7 922.0 1023.2 1126.3 1227.0" y="853.6" font-size="67" text-anchor="middle">选购控制范围</text>
</svg></body></html>
